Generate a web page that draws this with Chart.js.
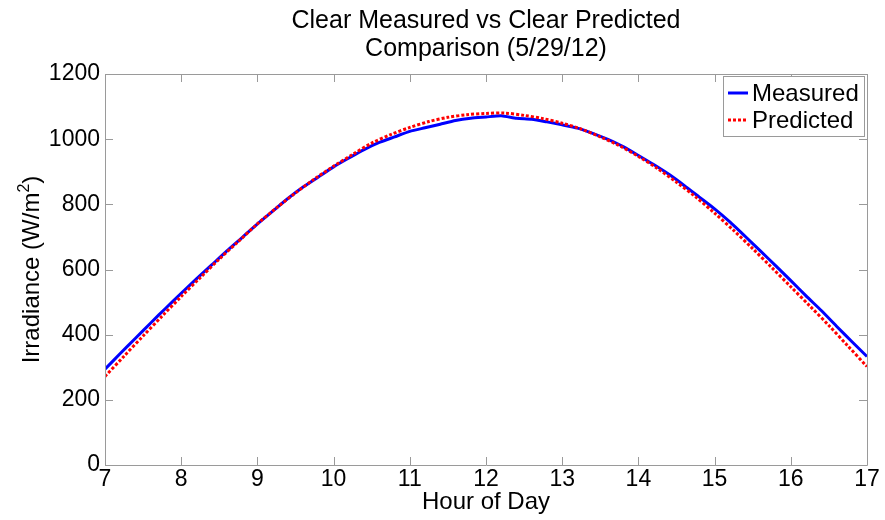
<!DOCTYPE html>
<html>
<head>
<meta charset="utf-8">
<script src="https://cdn.jsdelivr.net/npm/chart.js@4.4.1/dist/chart.umd.min.js"></script>
<style>
  html, body { margin: 0; padding: 0; background: #fff; }
  #chart { display: block; }
</style>
</head>
<body>
<canvas id="chart" width="885" height="520"></canvas>
<script>
/* ======================================================================
   Clear Measured vs Clear Predicted – irradiance 5/29/12
====================================================================== */

// Titles / labels
const titleLines = ["Clear Measured vs Clear Predicted", "Comparison (5/29/12)"];
const xTitle = "Hour of Day";
const yTitleMain = "Irradiance (W/m";
const yTitleSup = "2";
const yTitleEnd = ")";
const seriesNames = ["Measured", "Predicted"];

// Axis ranges / ticks
const xTicks = [7, 8, 9, 10, 11, 12, 13, 14, 15, 16, 17];
const yTicks = [0, 200, 400, 600, 800, 1000, 1200];

// Measured (read every 0.2 h)
const measuredHours = [
    7.0, 7.2, 7.4, 7.6, 7.8, 8.0, 8.2, 8.4, 8.6, 8.8,
    9.0, 9.2, 9.4, 9.6, 9.8, 10.0, 10.2, 10.4, 10.6, 10.8,
    11.0, 11.2, 11.4, 11.6, 11.8, 12.0, 12.2, 12.4, 12.6, 12.8,
    13.0, 13.2, 13.4, 13.6, 13.8, 14.0, 14.2, 14.4, 14.6, 14.8,
    15.0, 15.2, 15.4, 15.6, 15.8, 16.0, 16.2, 16.4, 16.6, 16.8, 17.0
];
const measuredValues = [
    294, 342, 389, 436, 482, 527, 571, 614, 657, 698,
    740, 779, 818, 853, 884, 915, 942, 968, 990, 1007,
    1024, 1035, 1046, 1057, 1064, 1068, 1072, 1064, 1061, 1053,
    1044, 1034, 1018, 999, 977, 950, 922, 892, 858, 822,
    786, 746, 702, 657, 612, 566, 519, 474, 426, 379, 333
];

// Predicted (read every 0.25 h)
const predictedHours = [
    7.0, 7.25, 7.5, 7.75, 8.0, 8.25, 8.5, 8.75, 9.0, 9.25,
    9.5, 9.75, 10.0, 10.25, 10.5, 10.75, 11.0, 11.25, 11.5, 11.75,
    12.0, 12.25, 12.5, 12.75, 13.0, 13.25, 13.5, 13.75, 14.0, 14.25,
    14.5, 14.75, 15.0, 15.25, 15.5, 15.75, 16.0, 16.25, 16.5, 16.75, 17.0
];
const predictedValues = [
    272, 334, 396, 457, 517, 575, 632, 686, 740, 789,
    835, 878, 917, 953, 988, 1014, 1036, 1054, 1067, 1075,
    1079, 1080, 1073, 1063, 1049, 1031, 1007, 980, 947, 910,
    868, 823, 773, 720, 664, 606, 547, 488, 428, 365, 302
];

const FONT = "'Liberation Sans', Arial, sans-serif";
const AXIS_COLOR = "#9a9a9a";

// Box, inner ticks, titles, legend
const decorPlugin = {
    id: "decor",
    afterDraw(chart) {
        const ctx = chart.ctx;
        const a = chart.chartArea;
        const sx = chart.scales.x;
        const sy = chart.scales.y;
        const tl = 8;

        ctx.save();
        ctx.strokeStyle = AXIS_COLOR;
        ctx.lineWidth = 1;
        ctx.beginPath();
        ctx.rect(Math.round(a.left) + 0.5, Math.round(a.top) + 0.5,
                 Math.round(a.right - a.left), Math.round(a.bottom - a.top));
        xTicks.forEach(v => {
            const px = Math.round(sx.getPixelForValue(v)) + 0.5;
            ctx.moveTo(px, a.bottom); ctx.lineTo(px, a.bottom - tl);
            ctx.moveTo(px, a.top); ctx.lineTo(px, a.top + tl);
        });
        yTicks.forEach(v => {
            const py = Math.round(sy.getPixelForValue(v)) + 0.5;
            ctx.moveTo(a.left, py); ctx.lineTo(a.left + tl, py);
            ctx.moveTo(a.right, py); ctx.lineTo(a.right - tl, py);
        });
        ctx.stroke();

        // titel
        ctx.fillStyle = "#000";
        ctx.textAlign = "center";
        ctx.textBaseline = "alphabetic";
        ctx.font = "25px " + FONT;
        const cx = (a.left + a.right) / 2;
        ctx.fillText(titleLines[0], cx, 28);
        ctx.fillText(titleLines[1], cx, 56);

        // x-akse tittel
        ctx.font = "24px " + FONT;
        ctx.fillText(xTitle, cx, 509);

        // y-akse tittel (rotert, med hevet 2)
        ctx.save();
        ctx.translate(39, (a.top + a.bottom) / 2);
        ctx.rotate(-Math.PI / 2);
        ctx.font = "24px " + FONT;
        const w1 = ctx.measureText(yTitleMain).width;
        ctx.font = "16px " + FONT;
        const w2 = ctx.measureText(yTitleSup).width;
        ctx.font = "24px " + FONT;
        const w3 = ctx.measureText(yTitleEnd).width;
        let x0 = -(w1 + w2 + w3) / 2;
        ctx.textAlign = "left";
        ctx.fillText(yTitleMain, x0, 0);
        ctx.font = "16px " + FONT;
        ctx.fillText(yTitleSup, x0 + w1, -10);
        ctx.font = "24px " + FONT;
        ctx.fillText(yTitleEnd, x0 + w1 + w2, 0);
        ctx.restore();

        // legend
        const lx = 723, ly = 76, lw = 141, lh = 60;
        ctx.fillStyle = "#fff";
        ctx.fillRect(lx, ly, lw, lh);
        ctx.strokeStyle = AXIS_COLOR;
        ctx.strokeRect(lx + 0.5, ly + 0.5, lw, lh);

        const ds = chart.data.datasets;
        const rows = [ds.find(d => d.label === seriesNames[0]), ds.find(d => d.label === seriesNames[1])];
        rows.forEach((d, i) => {
            const yy = ly + 17 + i * 27;
            ctx.strokeStyle = d.borderColor;
            ctx.lineWidth = 3;
            ctx.setLineDash(d.borderDash || []);
            ctx.beginPath();
            ctx.moveTo(lx + 5, yy);
            ctx.lineTo(lx + 25, yy);
            ctx.stroke();
            ctx.setLineDash([]);
            ctx.fillStyle = "#000";
            ctx.font = "24px " + FONT;
            ctx.textAlign = "left";
            ctx.textBaseline = "middle";
            ctx.fillText(d.label, lx + 29, yy + 1);
        });
        ctx.restore();
    }
};

new Chart(document.getElementById("chart"), {
    type: "line",
    data: {
        datasets: [
            {
                label: seriesNames[0],
                data: measuredHours.map((h, i) => ({ x: h, y: measuredValues[i] })),
                borderColor: "#0000ff",
                borderWidth: 3,
                pointRadius: 0,
                tension: 0.2,
                order: 2
            },
            {
                label: seriesNames[1],
                data: predictedHours.map((h, i) => ({ x: h, y: predictedValues[i] })),
                borderColor: "#ff0000",
                borderWidth: 3,
                borderDash: [3, 2],
                pointRadius: 0,
                tension: 0.3,
                order: 1
            }
        ]
    },
    options: {
        responsive: false,
        animation: false,
        devicePixelRatio: 1,
        layout: { padding: { top: 74, right: 18, bottom: 0, left: 0 } },
        plugins: {
            legend: { display: false },
            title: { display: false },
            tooltip: { enabled: false }
        },
        scales: {
            x: {
                type: "linear",
                min: 7,
                max: 17,
                afterBuildTicks: s => { s.ticks = xTicks.map(v => ({ value: v })); },
                afterFit: s => { s.height = 55; },
                grid: { display: false, drawTicks: false },
                border: { display: false },
                ticks: {
                    color: "#000",
                    font: { family: FONT, size: 23 },
                    padding: 1,
                    maxRotation: 0,
                    callback: v => String(v)
                }
            },
            y: {
                min: 0,
                max: 1200,
                afterBuildTicks: s => { s.ticks = yTicks.map(v => ({ value: v })); },
                afterFit: s => { s.width = 105; },
                grid: { display: false, drawTicks: false },
                border: { display: false },
                ticks: {
                    color: "#000",
                    font: { family: FONT, size: 23 },
                    padding: 5,
                    callback: v => String(v)
                }
            }
        }
    },
    plugins: [decorPlugin]
});
</script>
</body>
</html>
